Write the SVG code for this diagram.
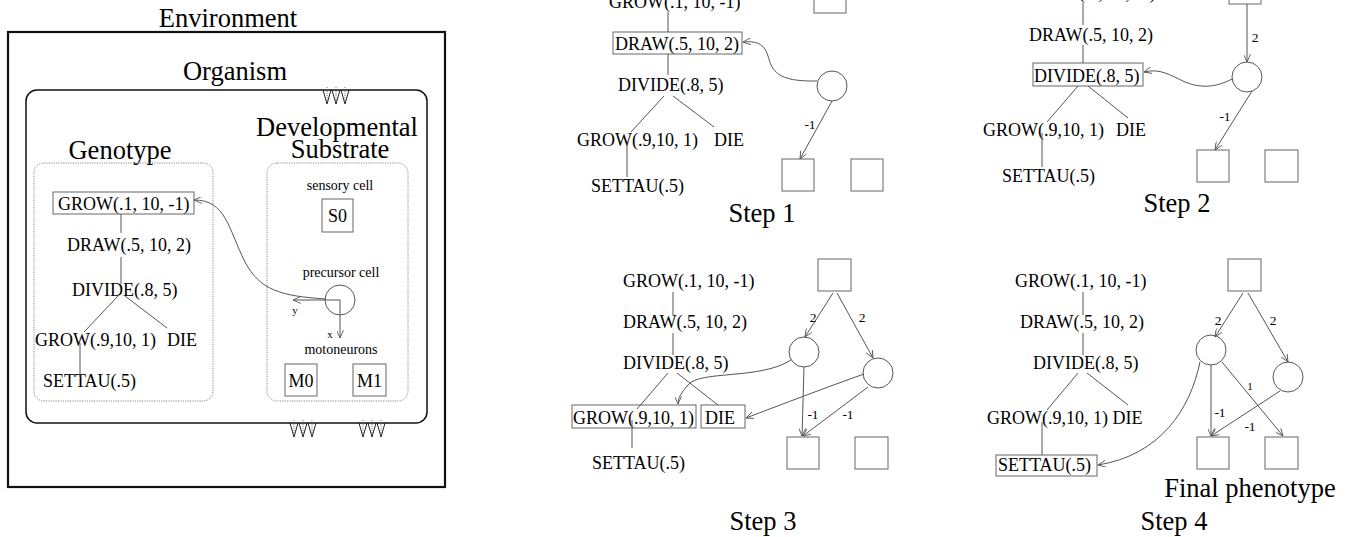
<svg xmlns="http://www.w3.org/2000/svg" width="1353" height="537" viewBox="0 0 1353 537">
<style>
text{font-family:"Liberation Serif","Times New Roman",serif;fill:#000}
.big{font-size:26.5px}
.g{font-size:18px}
.s{font-size:14px}
.l{font-size:13.5px}
.xs{font-size:11px}
.ln{stroke:#555;stroke-width:1;fill:none}
.bx{stroke:#666;stroke-width:1;fill:#fff}
.ar{stroke:#555;stroke-width:1;fill:none;marker-end:url(#ah)}
.dot{stroke:#888;stroke-width:1;fill:none;stroke-dasharray:1.2 1.2}
.sym{stroke:#222;stroke-width:1;fill:none}
.symd{stroke:#555;stroke-width:0.8;fill:none;stroke-dasharray:1 1}
</style>
<defs>
<marker id="ah" viewBox="0 0 10 8" refX="9" refY="4" markerWidth="9" markerHeight="7" markerUnits="userSpaceOnUse" orient="auto">
<path d="M0,0 L9,4 L0,8" fill="none" stroke="#555" stroke-width="1"/>
</marker>
<g id="v3">
<path class="symd" d="M0,-3 V11 M9,-3 V11 M18,-3 V11"/>
<path class="sym" d="M-4,0 L0,14 L4,0 M5,0 L9,14 L13,0 M14,0 L18,14 L22,0"/>
</g>
</defs>
<rect width="1353" height="537" fill="#fff"/>

<!-- Left panel -->
<g id="environment">
<text class="big" x="228" y="27" text-anchor="middle">Environment</text>
<rect x="8" y="32" width="437" height="455" fill="none" stroke="#111" stroke-width="2.2"/>
</g>
<g id="organism">
<text class="big" x="235" y="80" text-anchor="middle">Organism</text>
<rect x="26" y="90" width="401" height="333" rx="11" fill="none" stroke="#111" stroke-width="1.5"/>
<use href="#v3" x="327" y="90"/>
<use href="#v3" x="294" y="423"/>
<use href="#v3" x="363" y="423"/>
</g>
<g id="genotype">
<text class="big" x="120" y="159" text-anchor="middle">Genotype</text>
<rect class="dot" x="34" y="163" width="179" height="238" rx="10"/>
</g>
<g id="substrate">
<text class="big" x="337" y="136" text-anchor="middle">Developmental</text>
<text class="big" x="340" y="158" text-anchor="middle">Substrate</text>
<rect class="dot" x="267" y="163" width="141" height="238" rx="10"/>
</g>
<g id="g0-grow1">
<rect class="bx" x="53" y="192" width="141" height="22"/>
<text class="g" x="58" y="210">GROW(.1, 10, -1)</text>
</g>
<g id="g0-draw"><text class="g" x="67" y="251">DRAW(.5, 10, 2)</text></g>
<g id="g0-divide"><text class="g" x="72" y="296">DIVIDE(.8, 5)</text></g>
<g id="g0-grow2"><text class="g" x="35" y="346">GROW(.9,10, 1)</text></g>
<g id="g0-die"><text class="g" x="167" y="346">DIE</text></g>
<g id="g0-settau"><text class="g" x="43" y="387">SETTAU(.5)</text></g>
<g id="sensory-cell">
<text class="s" x="340" y="190" text-anchor="middle">sensory cell</text>
<rect class="bx" x="322" y="199" width="31" height="33"/>
<text class="g" x="337.5" y="222" text-anchor="middle">S0</text>
</g>
<g id="precursor-cell">
<text class="s" x="341" y="277" text-anchor="middle">precursor cell</text>
<circle class="ln" cx="340" cy="300" r="15"/>
<text class="xs" x="295" y="314" text-anchor="middle">y</text>
<text class="xs" x="330" y="338" text-anchor="middle">x</text>
</g>
<g id="motoneurons">
<text class="s" x="341" y="354" text-anchor="middle">motoneurons</text>
<rect class="bx" x="285" y="364" width="32" height="32"/>
<text class="g" x="301" y="387" text-anchor="middle">M0</text>
<rect class="bx" x="353" y="364" width="33" height="32"/>
<text class="g" x="369.5" y="387" text-anchor="middle">M1</text>
</g>

<!-- Step 1 -->
<g id="s1-grow1"><text class="g" x="609" y="8">GROW(.1, 10, -1)</text></g>
<g id="s1-draw"><rect class="bx" x="613" y="32" width="129" height="22"/><text class="g" x="615" y="50">DRAW(.5, 10, 2)</text></g>
<g id="s1-divide"><text class="g" x="618" y="91">DIVIDE(.8, 5)</text></g>
<g id="s1-grow2"><text class="g" x="577" y="146">GROW(.9,10, 1)</text></g>
<g id="s1-die"><text class="g" x="714" y="146">DIE</text></g>
<g id="s1-settau"><text class="g" x="591" y="192">SETTAU(.5)</text></g>
<g id="s1-cells">
<rect class="bx" x="814" y="-20" width="32" height="33"/>
<circle class="ln" cx="832" cy="86" r="15"/>
<rect class="bx" x="782" y="159" width="32" height="32"/>
<rect class="bx" x="851" y="159" width="32" height="32"/>
<text class="l" x="810" y="129" text-anchor="middle">-1</text>
</g>
<g id="s1-label"><text class="big" x="762" y="222" text-anchor="middle">Step 1</text></g>

<!-- Step 2 -->
<g id="s2-grow1"><text class="g" x="1024" y="-1">GROW(.1, 10, -1)</text></g>
<g id="s2-draw"><text class="g" x="1029" y="41">DRAW(.5, 10, 2)</text></g>
<g id="s2-divide"><rect class="bx" x="1033" y="63" width="110" height="23"/><text class="g" x="1034" y="82">DIVIDE(.8, 5)</text></g>
<g id="s2-grow2"><text class="g" x="983" y="136">GROW(.9,10, 1)</text></g>
<g id="s2-die"><text class="g" x="1116" y="136">DIE</text></g>
<g id="s2-settau"><text class="g" x="1002" y="182">SETTAU(.5)</text></g>
<g id="s2-cells">
<rect class="bx" x="1229" y="-28" width="32" height="32"/>
<circle class="ln" cx="1247" cy="77" r="15"/>
<rect class="bx" x="1197" y="150" width="32" height="32"/>
<rect class="bx" x="1265" y="150" width="33" height="32"/>
<text class="l" x="1255" y="42" text-anchor="middle">2</text>
<text class="l" x="1225" y="121" text-anchor="middle">-1</text>
</g>
<g id="s2-label"><text class="big" x="1177" y="212" text-anchor="middle">Step 2</text></g>

<!-- Step 3 -->
<g id="s3-grow1"><text class="g" x="623" y="287">GROW(.1, 10, -1)</text></g>
<g id="s3-draw"><text class="g" x="623" y="328">DRAW(.5, 10, 2)</text></g>
<g id="s3-divide"><text class="g" x="623" y="369">DIVIDE(.8, 5)</text></g>
<g id="s3-grow2"><rect class="bx" x="572" y="405" width="124" height="23"/><text class="g" x="573" y="424">GROW(.9,10, 1)</text></g>
<g id="s3-die"><rect class="bx" x="701" y="405" width="44" height="23"/><text class="g" x="705" y="424">DIE</text></g>
<g id="s3-settau"><text class="g" x="592" y="469">SETTAU(.5)</text></g>
<g id="s3-cells">
<rect class="bx" x="818" y="259" width="33" height="32"/>
<circle class="ln" cx="804" cy="352" r="15"/>
<circle class="ln" cx="878" cy="373" r="15"/>
<rect class="bx" x="787" y="437" width="32" height="32"/>
<rect class="bx" x="855" y="437" width="33" height="32"/>
<text class="l" x="813" y="322" text-anchor="middle">2</text>
<text class="l" x="862" y="322" text-anchor="middle">2</text>
<text class="l" x="813" y="419" text-anchor="middle">-1</text>
<text class="l" x="848" y="419" text-anchor="middle">-1</text>
</g>
<g id="s3-label"><text class="big" x="763" y="530" text-anchor="middle">Step 3</text></g>

<!-- Step 4 -->
<g id="s4-grow1"><text class="g" x="1015" y="287">GROW(.1, 10, -1)</text></g>
<g id="s4-draw"><text class="g" x="1020" y="328">DRAW(.5, 10, 2)</text></g>
<g id="s4-divide"><text class="g" x="1033" y="369">DIVIDE(.8, 5)</text></g>
<g id="s4-grow2"><text class="g" x="987" y="424">GROW(.9,10, 1) DIE</text></g>
<g id="s4-settau"><rect class="bx" x="996" y="455" width="101" height="21"/><text class="g" x="998" y="471">SETTAU(.5)</text></g>
<g id="s4-cells">
<rect class="bx" x="1228" y="259" width="33" height="32"/>
<circle class="ln" cx="1211" cy="350" r="15"/>
<circle class="ln" cx="1288" cy="377" r="15"/>
<rect class="bx" x="1197" y="437" width="32" height="32"/>
<rect class="bx" x="1265" y="437" width="33" height="32"/>
<text class="l" x="1218" y="325" text-anchor="middle">2</text>
<text class="l" x="1273" y="325" text-anchor="middle">2</text>
<text class="xs" x="1250" y="390" text-anchor="middle">1</text>
<text class="l" x="1220" y="417" text-anchor="middle">-1</text>
<text class="l" x="1250" y="431" text-anchor="middle">-1</text>
</g>
<g id="s4-label">
<text class="big" x="1250" y="497" text-anchor="middle">Final phenotype</text>
<text class="big" x="1174" y="530" text-anchor="middle">Step 4</text>
</g>

<!-- Connectors -->
<g id="connectors">
<path class="ln" d="M121,214 V233 M121,257 V284 M118,296 L84,332 M125,296 L167,328 M80,343 V377"/>
<path class="ar" d="M326,299 C280,296 260,290 245,262 C228,228 226,200 194,200"/>
<path class="ar" d="M340,300 H293"/>
<path class="ar" d="M340,300 V338"/>
<path class="ln" d="M668,12 V32 M668,54 V75 M664,96 L631,132 M673,96 L714,127 M627,143 V177"/>
<path class="ar" d="M817,81 C776,82 772,70 768,56 C764,43 756,41 743,42"/>
<path class="ar" d="M832,101 L800,159"/>
<path class="ln" d="M1083,3 V25 M1083,45 V63 M1078,86 L1047,122 M1088,86 L1128,118 M1042,133 V167"/>
<path class="ar" d="M1247,4 V62"/>
<path class="ar" d="M1232,79 C1215,88 1200,88 1185,82 C1170,75 1160,68 1144,72"/>
<path class="ar" d="M1252,91 L1215,150"/>
<path class="ln" d="M673,292 V315 M673,333 V355 M668,373 L637,409 M677,373 L718,405 M632,420 V448"/>
<path class="ar" d="M833,293 L805,337"/>
<path class="ar" d="M837,293 L873,358"/>
<path class="ar" d="M791,360 C760,380 700,370 688,385 C681,393 678,398 678,404"/>
<path class="ar" d="M864,374 C830,386 780,405 746,418"/>
<path class="ar" d="M804,367 L802,436"/>
<path class="ar" d="M868,387 L803,436"/>
<path class="ln" d="M1083,292 V315 M1083,333 V355 M1078,373 L1047,410 M1087,373 L1128,405 M1042,422 V455"/>
<path class="ar" d="M1243,293 L1215,337"/>
<path class="ar" d="M1248,293 L1288,362"/>
<path class="ar" d="M1200,362 C1190,410 1160,455 1098,465"/>
<path class="ar" d="M1211,365 V436"/>
<path class="ar" d="M1222,362 L1283,436"/>
<path class="ar" d="M1280,391 L1211,436"/>
</g>
</svg>
